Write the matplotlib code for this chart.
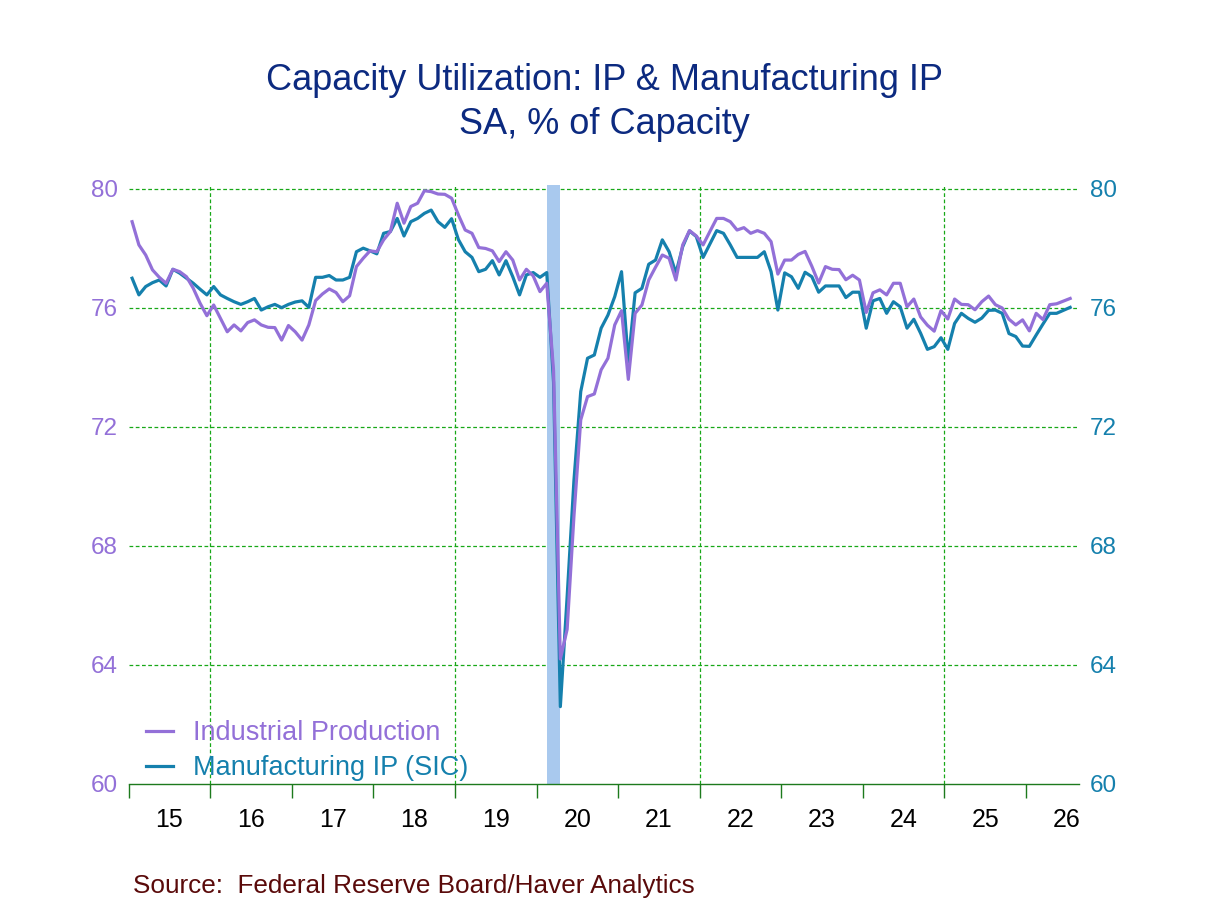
import matplotlib
matplotlib.use("Agg")
import matplotlib.pyplot as plt
from matplotlib.ticker import FixedLocator, NullFormatter, FixedFormatter
import numpy as np

# Monthly data, Jan 2015 onward
start_year = 2015
ip = [78.9, 78.12, 77.78, 77.28, 77.03, 76.83, 77.30, 77.22, 77.05, 76.66, 76.16, 75.74,
      76.10, 75.65, 75.20, 75.43, 75.23, 75.51, 75.60, 75.43, 75.35, 75.34, 74.92, 75.41,
      75.20, 74.92, 75.43, 76.25, 76.47, 76.64, 76.52, 76.21, 76.41, 77.39, 77.67, 77.92,
      77.89, 78.29, 78.57, 79.52, 78.85, 79.41, 79.52, 79.94, 79.91, 79.83, 79.82, 79.69,
      79.13, 78.62, 78.51, 78.03, 78.00, 77.92, 77.56, 77.89, 77.61, 76.94, 77.30, 77.08,
      76.55, 76.83, 73.9, 64.2, 65.2, 69.0, 72.24, 73.02, 73.11, 73.92, 74.31, 75.43,
      75.91, 73.6, 75.82, 76.10, 76.94, 77.37, 77.78, 77.67, 76.94, 78.12, 78.60, 78.42,
      78.12, 78.57, 79.01, 79.01, 78.90, 78.62, 78.70, 78.51, 78.60, 78.51, 78.23, 77.14,
      77.61, 77.61, 77.80, 77.90, 77.40, 76.84, 77.39, 77.30, 77.29, 76.95, 77.10, 76.94,
      75.85, 76.51, 76.61, 76.44, 76.83, 76.83, 76.04, 76.30, 75.70, 75.42, 75.22, 75.91,
      75.63, 76.30, 76.12, 76.11, 75.94, 76.21, 76.40, 76.11, 76.00, 75.62, 75.43, 75.60,
      75.23, 75.82, 75.61, 76.11, 76.14, 76.23, 76.32]
mfg = [77.0, 76.44, 76.72, 76.85, 76.94, 76.74, 77.30, 77.17, 77.00, 76.83, 76.63, 76.44,
       76.72, 76.44, 76.32, 76.21, 76.12, 76.21, 76.32, 75.93, 76.04, 76.12, 76.01, 76.12,
       76.20, 76.24, 76.02, 77.03, 77.03, 77.09, 76.94, 76.94, 77.03, 77.89, 78.01, 77.92,
       77.82, 78.51, 78.57, 79.01, 78.42, 78.90, 79.01, 79.18, 79.29, 78.90, 78.71, 79.00,
       78.30, 77.89, 77.70, 77.22, 77.30, 77.59, 77.11, 77.59, 77.05, 76.44, 77.11, 77.19,
       77.03, 77.19, 73.5, 62.6, 66.3, 70.2, 73.19, 74.31, 74.42, 75.32, 75.76, 76.38,
       77.22, 74.2, 76.51, 76.66, 77.47, 77.61, 78.29, 77.89, 77.17, 78.06, 78.59, 78.40,
       77.70, 78.15, 78.60, 78.51, 78.12, 77.70, 77.70, 77.70, 77.70, 77.89, 77.22, 75.93,
       77.18, 77.05, 76.66, 77.20, 77.05, 76.53, 76.74, 76.74, 76.74, 76.35, 76.53, 76.53,
       75.32, 76.24, 76.32, 75.82, 76.21, 76.04, 75.32, 75.62, 75.15, 74.61, 74.70, 75.00,
       74.61, 75.48, 75.82, 75.65, 75.52, 75.66, 75.92, 75.93, 75.82, 75.14, 75.04, 74.72,
       74.71, 75.09, 75.46, 75.82, 75.82, 75.92, 76.02]
series_names = ["Industrial Production", "Manufacturing IP (SIC)"]
year_labels = ["15", "16", "17", "18", "19", "20", "21", "22", "23", "24", "25", "26"]
y_ticks = [60, 64, 68, 72, 76, 80]
recession = (61, 63)  # month indices Feb 2020 - Apr 2020

PURPLE = "#9370d8"
TEAL = "#1580ad"
GREEN = "#18a818"
NAVY = "#0c2a80"

plt.rcParams['font.family'] = ['Liberation Sans', 'DejaVu Sans']

n = len(ip)
x = start_year + (np.arange(n) + 0.5) / 12.0

fig = plt.figure(figsize=(12.08, 9.06), dpi=100)
ax = fig.add_axes([128.7/1208, 1 - 784/906, (1079 - 128.7)/1208, (784 - 184.5)/906])
ax.set_xlim(2015.0, 2026.65)
ax.set_ylim(60, 80.15)

# recession shading
ax.axvspan(x[recession[0]], x[recession[1]], color="#a9c9ee", lw=0, zorder=1)

# grid
for yv in y_ticks[1:]:
    ax.axhline(yv, color=GREEN, lw=0.9, ls=(0, (3, 2)), zorder=0.5, snap=True)
for xv in [2016, 2019, 2022, 2025]:
    ax.axvline(xv, color=GREEN, lw=0.9, ls=(0, (3, 2)), zorder=0.5, snap=True)

ax.plot(x, mfg, color=TEAL, lw=2.3, zorder=3, label=series_names[1])
ax.plot(x, ip, color=PURPLE, lw=2.3, zorder=4, label=series_names[0])

for s in ["top", "left", "right"]:
    ax.spines[s].set_visible(False)
ax.spines["bottom"].set_color("#1d7a1d")
ax.spines["bottom"].set_linewidth(1.0)

years = list(range(2015, 2027))
ax.xaxis.set_major_locator(FixedLocator(years))
ax.xaxis.set_major_formatter(NullFormatter())
ax.xaxis.set_minor_locator(FixedLocator([yy + 0.5 for yy in years]))
ax.xaxis.set_minor_formatter(FixedFormatter(year_labels))
ax.tick_params(axis="x", which="major", direction="out", length=10, width=1.0, color="#1d7a1d")
ax.tick_params(axis="x", which="minor", length=0, pad=17, labelsize=18, labelcolor="black")

ax.set_yticks(y_ticks)
ax.set_yticklabels([str(v) for v in y_ticks])
ax.tick_params(axis="y", length=0, pad=8, labelsize=17.5, labelcolor=PURPLE)

ax2 = ax.twinx()
ax2.set_ylim(ax.get_ylim())
ax2.set_yticks(y_ticks)
ax2.set_yticklabels([str(v) for v in y_ticks])
ax2.tick_params(axis="y", length=0, pad=8, labelsize=17.5, labelcolor=TEAL)
for s in ["top", "left", "right", "bottom"]:
    ax2.spines[s].set_visible(False)

# legend
handles, labels = ax.get_legend_handles_labels()
leg = ax.legend([handles[1], handles[0]], [labels[1], labels[0]], loc="lower left",
                bbox_to_anchor=(-0.002, -0.027), frameon=False, fontsize=19.5,
                handlelength=1.0, handletextpad=0.75, borderpad=0.2, labelspacing=0.33)
for t, c in zip(leg.get_texts(), [PURPLE, TEAL]):
    t.set_color(c)

fig.text(0.5, 1 - 81/906, "Capacity Utilization: IP & Manufacturing IP", ha="center", va="center",
         fontsize=26, color=NAVY)
fig.text(0.5, 1 - 125/906, "SA, % of Capacity", ha="center", va="center", fontsize=26, color=NAVY)
fig.text(133/1208, 1 - 886/906, "Source:  Federal Reserve Board/Haver Analytics", ha="left",
         va="center", fontsize=18.8, color="#5a0a0a")

fig.savefig("out.png", dpi=100, facecolor="white")
